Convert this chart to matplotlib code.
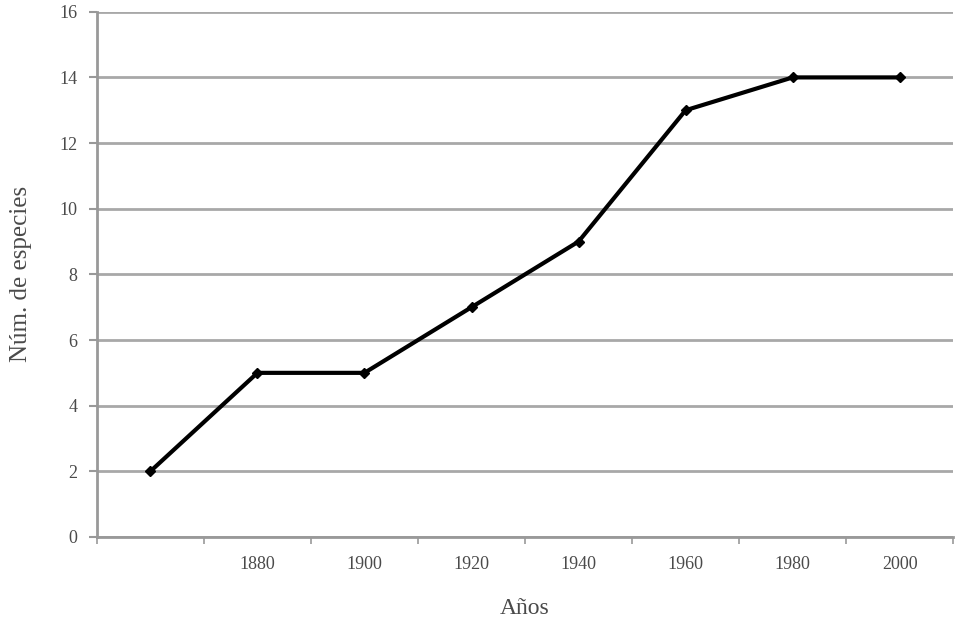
import numpy as np
import matplotlib.pyplot as plt

plt.rcParams['font.family'] = ['Liberation Serif', 'DejaVu Serif']

years = ['', '1880', '1900', '1920', '1940', '1960', '1980', '2000']
especies = [2, 5, 5, 7, 9, 13, 14, 14]

fig = plt.figure(figsize=(9.59, 6.19), dpi=100)
ax = fig.add_axes([0.101, 0.1325, 0.893, 0.8485])

x = np.arange(len(years))
ax.plot(x, especies, color='black', lw=3, marker='D', ms=5.5, zorder=3)

ax.set_xlim(-0.5, len(years) - 0.5)
ax.set_ylim(0, 16)
ax.set_yticks(np.arange(0, 17, 2))
ax.yaxis.grid(True, color='#a8a8a8', lw=2)
ax.set_axisbelow(True)

# category ticks between the labels, labels centred on categories
ax.set_xticks(np.arange(-0.5, len(years), 1))
ax.set_xticklabels([])
ax.set_xticks(x, minor=True)
ax.set_xticklabels(years, minor=True)
ax.tick_params(axis='x', which='minor', length=0, pad=14)
ax.tick_params(axis='x', which='major', length=5, width=1.2, color='#999999')
ax.tick_params(axis='y', length=6, width=1.5, color='#999999', pad=8)
ax.tick_params(which='both', labelsize=13, labelcolor='#4a4a4a')

for s in ['top', 'right']:
    ax.spines[s].set_visible(False)
for s in ['left', 'bottom']:
    ax.spines[s].set_color('#999999')
    ax.spines[s].set_linewidth(2)

ax.set_xlabel('Años', fontsize=17, color='#4a4a4a', labelpad=18)
ax.set_ylabel('Núm. de especies', fontsize=18, color='#4a4a4a', labelpad=20)

fig.savefig('out.png', dpi=100)
